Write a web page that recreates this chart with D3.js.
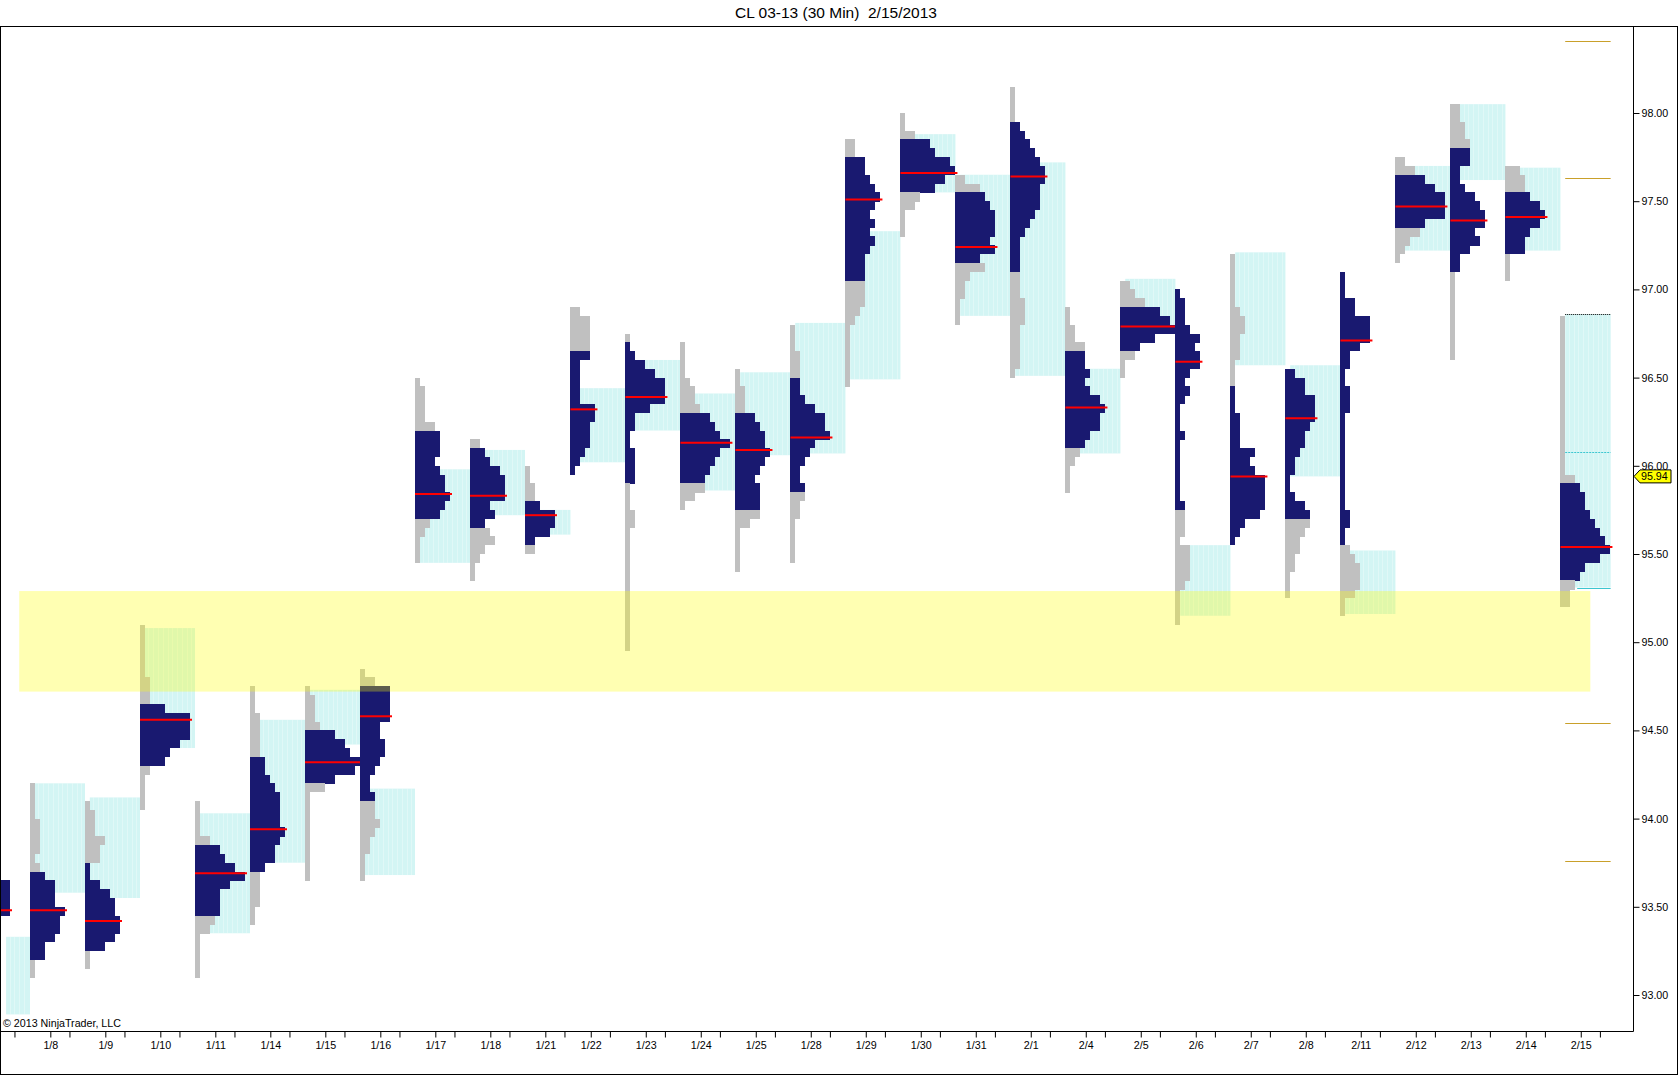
<!DOCTYPE html>
<html>
<head>
<meta charset="utf-8">
<script src="https://cdn.jsdelivr.net/npm/d3@7"></script>
<style>
  html, body { margin: 0; padding: 0; background: #fff; }
  svg { display: block; font-family: "Liberation Sans", Arial, sans-serif; }
</style>
</head>
<body>
<svg id="chart" width="1680" height="1076"></svg>
<script>
// sessions shown on the chart (1/7 is only partly visible at the left edge)
const sessions = ['1/7','1/8','1/9','1/10','1/11','1/14','1/15','1/16','1/17','1/18','1/21','1/22','1/23','1/24','1/25','1/28','1/29','1/30','1/31','2/1','2/4','2/5','2/6','2/7','2/8','2/11','2/12','2/13','2/14','2/15'];

// 30 minute bars per session (1/21 was a short holiday session)
const sessionBars = [46,46,46,46,46,46,46,46,46,46,38,46,46,46,46,46,46,46,46,46,46,46,46,46,46,46,46,46,46,46];

// top price of each profile, rows go down 0.05 at a time
const rowSize = 0.05;
const profileHigh = [93.65,94.20,94.10,95.10,94.10,94.75,94.75,94.85,96.50,96.15,96.00,96.90,96.75,96.70,96.55,96.80,97.85,98.00,97.65,98.15,96.90,97.05,97.00,97.20,96.55,97.10,97.75,98.05,97.70,96.85];

// TPO count per row, top to bottom
const profileTpo = [
  [7,7,7,7],
  [1,1,1,1,2,2,2,2,1,2,3,5,5,5,7,6,6,5,3,3,1,1],
  [1,2,2,2,4,3,3,1,1,3,5,6,6,7,7,6,4,1,1],
  [1,1,1,1,1,1,2,2,2,5,10,10,10,8,6,5,2,1,1,1,1],
  [1,1,1,1,3,5,6,8,10,7,5,5,5,4,3,1,1,1,1,1],
  [1,1,1,2,2,2,2,2,3,3,4,5,6,6,6,6,7,6,5,5,3,2,2,2,2,1,1],
  [1,2,2,2,3,6,8,9,11,10,6,4,1,1,1,1,1,1,1,1,1,1],
  [1,3,6,6,6,6,4,4,5,5,4,3,2,2,3,3,3,4,3,2,2,1,1,1],
  [1,2,2,2,2,4,5,5,5,4,5,6,6,7,6,5,3,2,1,1,1],
  [2,3,4,6,7,7,7,4,5,3,4,5,3,2,1,1],
  [1,1,2,2,3,6,6,5,2,2],
  [2,4,4,4,4,4,2,2,2,2,2,5,5,4,4,4,3,2,1],
  [1,1,2,4,6,8,8,8,5,2,2,1,1,2,2,2,2,1,1,1,2,2,1,1,1,1,1,1,1,1,1,1,1,1,1,1],
  [1,1,1,1,2,3,3,4,6,7,8,10,8,7,6,5,5,3,1],
  [1,1,2,2,2,4,5,6,6,7,6,5,4,5,5,5,5,3,1,1,1,1,1],
  [1,1,1,2,2,2,2,2,3,5,7,7,8,5,4,3,2,2,3,3,2,2,1,1,1,1,1],
  [2,2,4,4,5,6,7,6,5,6,5,6,5,4,4,4,4,4,4,3,2,1,1,1,1,1,1,1],
  [1,1,3,6,7,10,11,9,7,4,3,1,1,1],
  [2,5,6,7,8,8,8,7,8,5,6,3,2,2,1,1,1],
  [1,1,1,1,2,3,4,5,6,7,7,6,6,6,5,4,3,2,2,2,2,2,2,2,3,3,3,2,2,2,2,2,1],
  [1,1,2,2,4,4,4,5,4,5,7,8,7,7,5,4,3,2,1,1,1],
  [2,3,5,8,10,11,7,4,3,1,1],
  [1,2,2,2,3,5,4,5,5,3,2,3,2,1,1,1,2,1,1,1,1,1,1,1,2,2,2,2,1,3,3,3,3,2,1,1,1,1],
  [1,1,1,1,1,1,2,3,3,2,2,2,1,1,1,1,1,1,2,2,2,2,5,4,5,7,7,7,7,6,3,2,1],
  [2,4,4,6,6,6,5,4,4,3,2,2,1,1,2,4,5,5,4,3,3,2,2,1,1,1],
  [1,1,1,3,3,6,6,6,4,2,2,1,1,2,2,2,1,1,1,1,1,1,1,1,1,1,1,2,2,1,1,2,3,4,4,4,3,1,1],
  [2,4,6,8,10,10,10,6,5,3,2,1],
  [2,2,3,3,4,4,4,2,2,3,5,6,7,7,5,6,4,2,2,1,1,1,1,1,1,1,1,1,1],
  [3,4,4,5,7,8,7,5,4,4,1,1,1],
  [1,1,1,1,1,1,1,1,1,1,1,1,1,1,1,1,1,1,3,4,5,5,6,7,8,9,10,8,5,4,3,2,2]
];

// value area and point of control
const vaHigh = [93.65,93.70,93.75,94.65,93.85,94.35,94.50,94.75,96.20,96.10,95.80,96.65,96.70,96.30,96.30,96.50,97.75,97.85,97.55,97.95,96.65,96.90,97.00,96.45,96.55,97.10,97.65,97.80,97.55,95.90];
const vaLow  = [93.45,93.20,93.25,94.30,93.45,93.70,94.20,94.10,95.70,95.65,95.55,95.95,95.90,95.90,95.75,95.85,97.05,97.55,97.15,97.10,96.10,96.65,95.75,95.55,95.70,95.55,97.35,97.10,97.20,95.35];
const poc    = [93.48,93.48,93.42,94.56,93.69,93.94,94.32,94.58,95.84,95.83,95.72,96.32,96.39,96.13,96.09,96.16,97.51,97.66,97.24,97.64,96.33,96.79,96.59,95.94,96.27,96.71,97.47,97.39,97.41,95.54];

// cyan range boxes next to each profile
const boxTop    = [93.33,94.20,94.12,95.08,94.03,94.56,94.73,94.17,95.98,96.09,95.75,96.44,96.60,96.41,96.53,96.81,97.33,97.88,97.65,97.72,96.55,97.06,95.55,97.21,96.57,95.52,97.70,98.05,97.69,96.86];
const boxBottom = [92.89,93.58,93.55,94.40,93.35,93.75,94.42,93.68,95.45,95.72,95.61,96.02,96.20,95.86,96.06,96.07,96.49,97.55,96.85,96.51,96.07,96.76,95.15,96.57,95.94,95.16,97.22,97.62,97.22,95.31];

// price axis
const priceTicks = [93.00,93.50,94.00,94.50,95.00,95.50,96.00,96.50,97.00,97.50,98.00];

// level lines on the current session, developing lines, drawn zone
const levelLines = [98.41, 97.63, 94.54, 93.76];
const devHigh = 96.86, devMid = 96.08, devLow = 95.31;
const zonePrices = [95.29, 94.72];
const zoneBars = [37, 25];      // bars into 1/7 and into 2/15
const firstBar = 26;            // first loaded bar
const lastBarInSession = 42;    // bars elapsed in 2/15
const lastPrice = 95.94;

const svg = d3.select('#chart');
const plotLeft = 0, plotRight = 1633, plotTop = 26, plotBottom = 1031;

const starts = d3.cumsum([0, ...sessionBars.slice(0, -1)]);
const nS = sessions.length;
const lastBar = starts[nS - 1] + lastBarInSession;

const x = d3.scaleLinear().domain([0, 46]).range([-25, 30]);
const y = d3.scaleLinear().domain([93, 98]).range([995, 113]);
const tpo = d3.scaleLinear().domain([0, 1]).range([0, 5]);

svg.append('rect').attr('width', 1680).attr('height', 1076).attr('fill', '#fff');

//Title
svg.append('text')
  .attr('x', 836).attr('y', 18)
  .attr('text-anchor', 'middle')
  .style('font-size', '15.5px')
  .style('white-space', 'pre')
  .text('CL 03-13 (30 Min)  2/15/2013');

svg.append('defs').append('clipPath').attr('id', 'plotclip')
  .append('rect')
    .attr('x', plotLeft).attr('y', plotTop)
    .attr('width', plotRight - plotLeft).attr('height', plotBottom - plotTop);

const plot = svg.append('g').attr('clip-path', 'url(#plotclip)');

//Cyan range boxes
sessions.forEach((s, i) => {
  const b0 = Math.max(starts[i] + 4, firstBar);
  const b1 = i < nS - 1 ? starts[i + 1] : lastBar;
  const g = plot.append('g');
  g.append('rect')
    .attr('x', x(b0)).attr('y', y(boxTop[i]))
    .attr('width', x(b1) - x(b0))
    .attr('height', y(boxBottom[i]) - y(boxTop[i]))
    .attr('fill', '#d3f5f4');
  g.selectAll('line')
    .data(d3.range(Math.ceil(b0) + 3, b1 - 1, 4))
    .enter()
      .append('line')
      .attr('x1', d => Math.round(x(d)) + 0.5).attr('x2', d => Math.round(x(d)) + 0.5)
      .attr('y1', y(boxTop[i])).attr('y2', y(boxBottom[i]))
      .attr('stroke', '#fff').attr('stroke-opacity', 0.3);
});

//Profiles
sessions.forEach((s, i) => {
  const hi = profileHigh[i];
  const rows = profileTpo[i].map((c, r) => {
    const top = hi - r * rowSize, bot = hi - (r + 1) * rowSize, mid = (top + bot) / 2;
    return {top, bot, c, va: mid <= vaHigh[i] + 1e-6 && mid >= vaLow[i] - 1e-6};
  });
  const x0 = x(starts[i]);
  const g = plot.append('g').attr('shape-rendering', 'crispEdges');
  g.selectAll('rect')
    .data(rows)
    .enter()
      .append('rect')
      .attr('x', x0)
      .attr('y', d => y(d.top))
      .attr('width', d => tpo(d.c))
      .attr('height', d => y(d.bot) - y(d.top) + 0.3)
      .attr('fill', d => d.va ? '#191970' : '#c0c0c0');

  const pr = Math.min(rows.length - 1, Math.floor((hi - poc[i]) / rowSize + 1e-6));
  plot.append('line')
    .attr('x1', x0).attr('x2', x0 + tpo(rows[pr].c) + 2)
    .attr('y1', y(poc[i])).attr('y2', y(poc[i]))
    .attr('stroke', '#ff0000').attr('stroke-width', 2);
});

//Yellow zone
plot.append('rect')
  .attr('x', x(starts[0] + zoneBars[0]))
  .attr('y', y(zonePrices[0]))
  .attr('width', x(starts[nS - 1] + zoneBars[1]) - x(starts[0] + zoneBars[0]))
  .attr('height', y(zonePrices[1]) - y(zonePrices[0]))
  .attr('fill', '#ffff00').attr('fill-opacity', 0.3);

//Lines on the current session
const cur0 = x(starts[nS - 1] + 4), cur1 = x(lastBar);
plot.selectAll('.level')
  .data(levelLines)
  .enter()
    .append('line')
    .attr('x1', cur0).attr('x2', cur1)
    .attr('y1', d => Math.round(y(d)) + 0.5).attr('y2', d => Math.round(y(d)) + 0.5)
    .attr('stroke', '#c9a02a');

plot.append('line')
  .attr('x1', cur0).attr('x2', cur1)
  .attr('y1', Math.round(y(devHigh)) + 0.5).attr('y2', Math.round(y(devHigh)) + 0.5)
  .attr('stroke', '#000').attr('stroke-dasharray', '1,1');
plot.append('line')
  .attr('x1', cur0).attr('x2', cur1)
  .attr('y1', Math.round(y(devMid)) + 0.5).attr('y2', Math.round(y(devMid)) + 0.5)
  .attr('stroke', '#3cc6d0').attr('stroke-dasharray', '2,1');
plot.append('line')
  .attr('x1', cur0 + 12).attr('x2', cur1)
  .attr('y1', Math.round(y(devLow)) + 0.5).attr('y2', Math.round(y(devLow)) + 0.5)
  .attr('stroke', '#3cc6d0');

//Price axis on the right
const yAxis = svg.append('g')
  .attr('transform', `translate(${plotRight + 0.5},0)`)
  .call(d3.axisRight(y).tickValues(priceTicks).tickFormat(d3.format('.2f')).tickSize(6).tickPadding(2));
yAxis.select('.domain').remove();
yAxis.selectAll('text').style('font-size', '10.7px').style('font-family', '"Liberation Sans", Arial, sans-serif').attr('fill', '#000');
svg.append('line')
  .attr('x1', plotRight + 0.5).attr('x2', plotRight + 0.5)
  .attr('y1', plotTop).attr('y2', plotBottom + 0.5)
  .attr('stroke', '#000');

//Time axis
const labelBars = starts.map(b => b + 17);
const minorBars = starts.map(b => b + 33);
const xAxis = svg.append('g')
  .attr('transform', `translate(0,${plotBottom + 0.5})`)
  .call(d3.axisBottom(x)
    .tickValues(labelBars.filter(b => x(b) > 2 && x(b) < plotRight))
    .tickFormat(b => sessions[labelBars.indexOf(b)])
    .tickSize(6).tickPadding(4));
xAxis.select('.domain').remove();
xAxis.selectAll('text').style('font-size', '10.7px').style('font-family', '"Liberation Sans", Arial, sans-serif').attr('fill', '#000');
const xMinor = svg.append('g')
  .attr('transform', `translate(0,${plotBottom + 0.5})`)
  .call(d3.axisBottom(x)
    .tickValues(minorBars.filter(b => x(b) > 2 && x(b) < plotRight))
    .tickFormat('').tickSize(6));
xMinor.select('.domain').remove();
svg.append('line')
  .attr('x1', plotLeft).attr('x2', plotRight + 0.5)
  .attr('y1', plotBottom + 0.5).attr('y2', plotBottom + 0.5)
  .attr('stroke', '#000');

//Last price tag
const yc = y(lastPrice);
svg.append('path')
  .attr('d', `M${plotRight + 1},${yc} L${plotRight + 7},${yc - 6.5} L${plotRight + 38},${yc - 6.5} L${plotRight + 38},${yc + 6.5} L${plotRight + 7},${yc + 6.5} Z`)
  .attr('fill', '#ffff00').attr('stroke', '#000').attr('stroke-width', 1);
svg.append('text')
  .attr('x', plotRight + 8).attr('y', yc + 4)
  .style('font-size', '10.7px')
  .text(d3.format('.2f')(lastPrice));

//Copyright
svg.append('text')
  .attr('x', 3).attr('y', 1027)
  .style('font-size', '10.7px')
  .text('\u00a9 2013 NinjaTrader, LLC');

//Panel border
svg.append('rect')
  .attr('x', 0.5).attr('y', plotTop + 0.5)
  .attr('width', 1677).attr('height', 1074.5 - plotTop - 0.5)
  .attr('fill', 'none').attr('stroke', '#000');
</script>
</body>
</html>
